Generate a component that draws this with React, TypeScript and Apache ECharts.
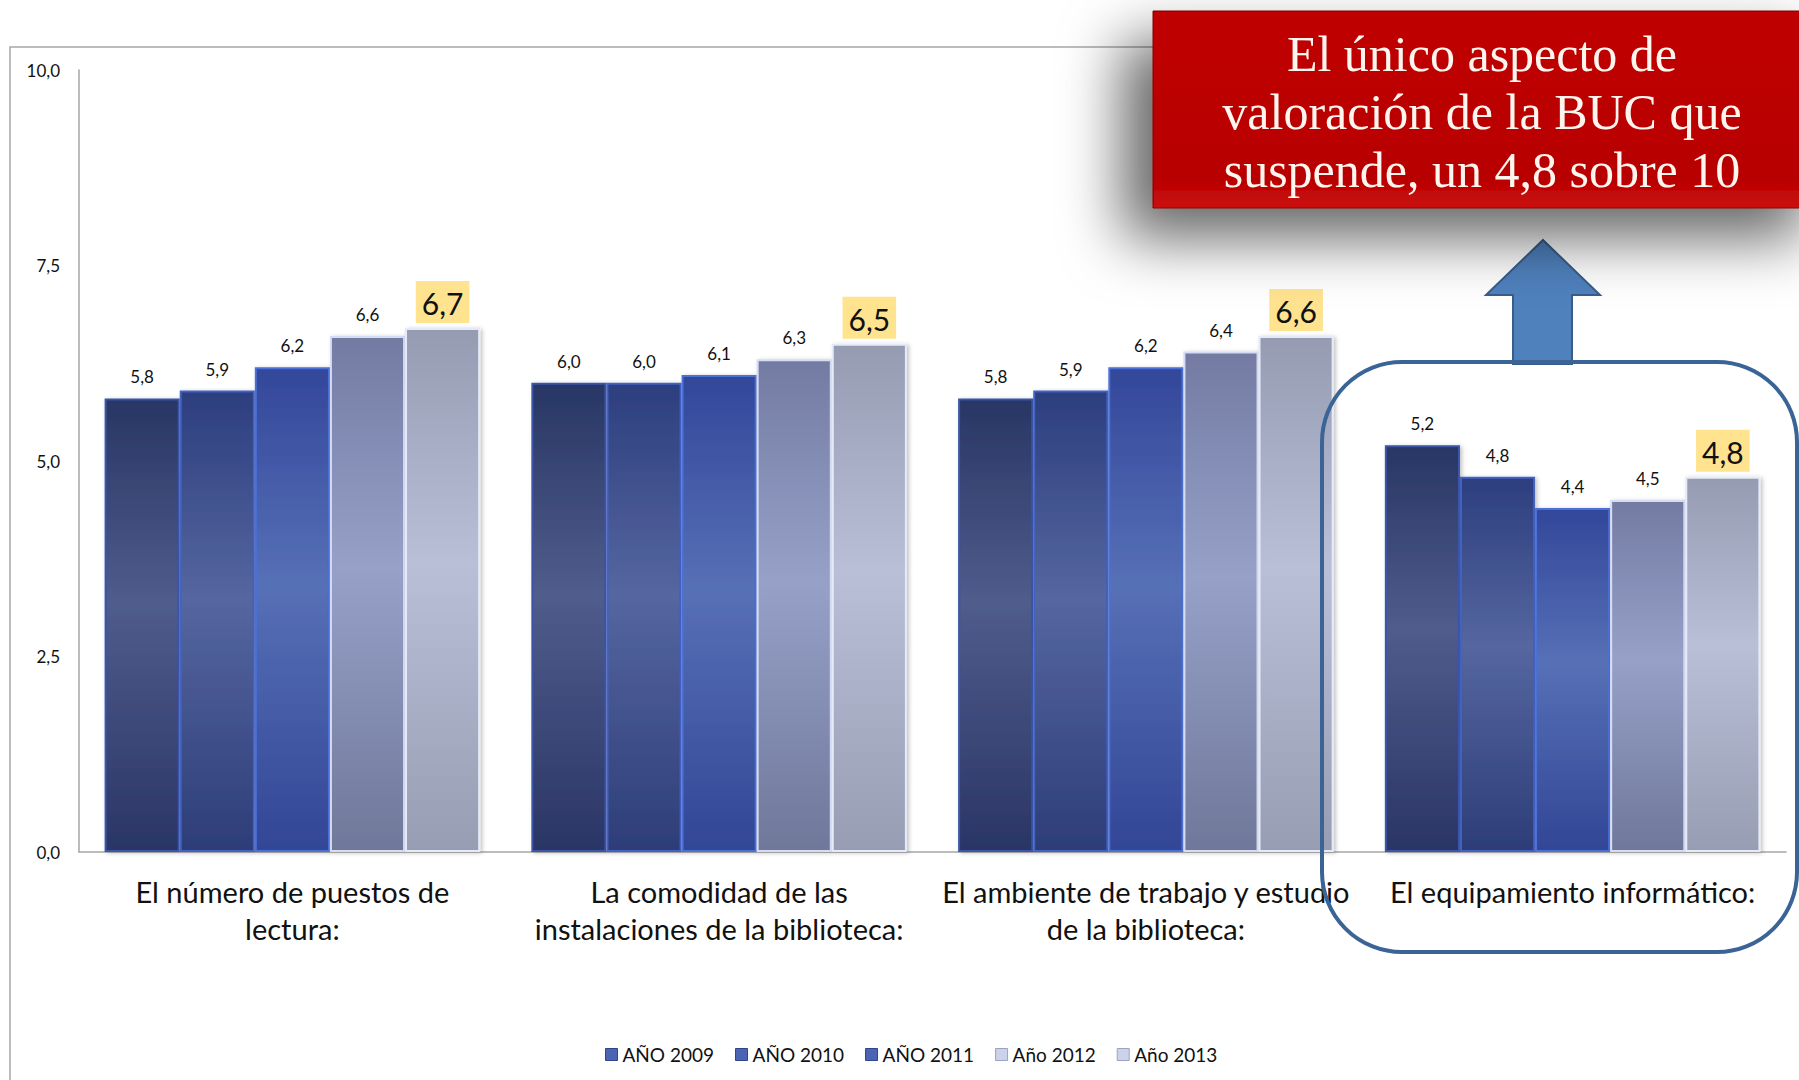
import React, { useEffect, useRef } from "react";
import * as echarts from "echarts";

const categories = [
  "El número de puestos de\nlectura:",
  "La comodidad de las\ninstalaciones de la biblioteca:",
  "El ambiente de trabajo y estudio\nde la biblioteca:",
  "El equipamiento informático:",
];
const seriesNames = ["AÑO 2009", "AÑO 2010", "AÑO 2011", "Año 2012", "Año 2013"];
const v2009 = [5.8, 6.0, 5.8, 5.2];
const v2010 = [5.9, 6.0, 5.9, 4.8];
const v2011 = [6.2, 6.1, 6.2, 4.4];
const v2012 = [6.6, 6.3, 6.4, 4.5];
const v2013 = [6.7, 6.5, 6.6, 4.8];
const yTicks = [0, 2.5, 5, 7.5, 10];

const FONT = "Lato";
const fmt = (v: number) => v.toFixed(1).replace(".", ",");

const palettes = [
  { top: "#283665", mid: "#4f5c8c", bot: "#2a3566", border: "#3b55a8" },
  { top: "#2c3e7e", mid: "#5566a0", bot: "#2d3d78", border: "#4262c4" },
  { top: "#33479a", mid: "#5670b6", bot: "#324696", border: "#4b70d8" },
  { top: "#737ba3", mid: "#97a1c8", bot: "#6f789a", border: "#d6dcf4" },
  { top: "#959cb2", mid: "#b9bfd7", bot: "#979db2", border: "#e6eaf8" },
];

const grad = (p: any) =>
  new echarts.graphic.LinearGradient(0, 0, 0, 1, [
    { offset: 0, color: p.top },
    { offset: 0.45, color: p.mid },
    { offset: 1, color: p.bot },
  ]);

export default function App() {
  const ref = useRef<HTMLDivElement>(null);
  useEffect(() => {
    if (!ref.current) return;
    const chart = echarts.init(ref.current, null, { renderer: "svg" });
    const allData = [v2009, v2010, v2011, v2012, v2013];
    const series = allData.map((d, i) => ({
      name: seriesNames[i],
      type: "bar",
      data: d,
      barGap: "0%",
      barCategoryGap: "12%",
      itemStyle: {
        color: grad(palettes[i]),
        borderColor: palettes[i].border,
        borderWidth: 2,
        shadowBlur: 4,
        shadowOffsetX: 2,
        shadowOffsetY: 1,
        shadowColor: "rgba(0,0,0,0.25)",
      },
      label:
        i === 4
          ? {
              show: true,
              position: "top",
              distance: 5,
              formatter: (p: any) => fmt(p.value),
              fontFamily: FONT,
              fontSize: 30,
              color: "#111",
              backgroundColor: "#FFE38F",
              padding: [7, 6, 5, 6],
            }
          : {
              show: true,
              position: "top",
              distance: 13,
              formatter: (p: any) => fmt(p.value),
              fontFamily: FONT,
              fontSize: 17,
              color: "#111",
            },
    }));

    chart.setOption({
      animation: false,
      backgroundColor: "#ffffff",
      grid: { left: 79, right: 13, top: 70, bottom: 228, containLabel: false },
      legend: {
        data: seriesNames.map((n, i) => ({
          name: n,
          itemStyle: {
            color: i < 3 ? "#4b65b4" : "#ccd2ea",
            borderColor: i < 3 ? "#2f448a" : "#9aa3c4",
            borderWidth: 1,
          },
        })),
        left: 600,
        top: 1040,
        icon: "rect",
        itemWidth: 12,
        itemHeight: 12,
        itemGap: 21,
        textStyle: { fontFamily: FONT, fontSize: 19, color: "#111" },
      },
      xAxis: {
        type: "category",
        data: categories,
        axisLine: { lineStyle: { color: "#a6a6a6", width: 1.5 } },
        axisTick: { show: false },
        axisLabel: {
          interval: 0,
          margin: 21,
          fontFamily: FONT,
          fontSize: 29,
          lineHeight: 37,
          color: "#111",
        },
      },
      yAxis: {
        type: "value",
        min: yTicks[0],
        max: yTicks[yTicks.length - 1],
        interval: 2.5,
        axisLine: { show: true, lineStyle: { color: "#a6a6a6", width: 1.5 } },
        axisTick: { show: false },
        splitLine: { show: false },
        axisLabel: {
          margin: 19,
          fontFamily: FONT,
          fontSize: 17,
          color: "#111",
          formatter: (v: number) => fmt(v),
        },
      },
      series,
      graphic: [
        {
          type: "polyline",
          z: 50,
          shape: { points: [[10, 1080], [10, 47], [1160, 47]] },
          style: { stroke: "#a6a6a6", lineWidth: 1.5, fill: "none" },
        },
        {
          type: "rect",
          z: 60,
          shape: { x: 1153, y: 11, width: 680, height: 197 },
          style: {
            fill: new echarts.graphic.LinearGradient(0, 0, 0, 1, [
              { offset: 0, color: "#c00000" },
              { offset: 0.85, color: "#b80000" },
              { offset: 1, color: "#cc1010" },
            ]),
            stroke: "#7a0000",
            lineWidth: 1,
            shadowBlur: 60,
            shadowColor: "rgba(0,0,0,0.6)",
            shadowOffsetX: -30,
            shadowOffsetY: 30,
          },
        },
        {
          type: "text",
          z: 61,
          style: {
            text: "El único aspecto de\nvaloración de la BUC que\nsuspende, un 4,8 sobre 10",
            x: 1482,
            y: 112,
            align: "center",
            verticalAlign: "middle",
            fontFamily: "Liberation Serif",
            fontSize: 50,
            lineHeight: 58,
            fill: "#fdf5ee",
          },
        },
        {
          type: "polygon",
          z: 55,
          shape: {
            points: [
              [1543, 240],
              [1600, 295],
              [1572, 295],
              [1572, 364],
              [1513, 364],
              [1513, 295],
              [1486, 295],
            ],
          },
          style: { fill: "#4f81bd", stroke: "#385d8a", lineWidth: 2 },
        },
        {
          type: "rect",
          z: 56,
          shape: { x: 1322, y: 362, width: 475, height: 590, r: 80 },
          style: { fill: "none", stroke: "#3b6496", lineWidth: 4 },
        },
      ],
    });
    return () => chart.dispose();
  }, []);
  return (
    <div
      ref={ref}
      style={{ position: "fixed", left: 0, top: 0, width: 1799, height: 1080 }}
    />
  );
}
